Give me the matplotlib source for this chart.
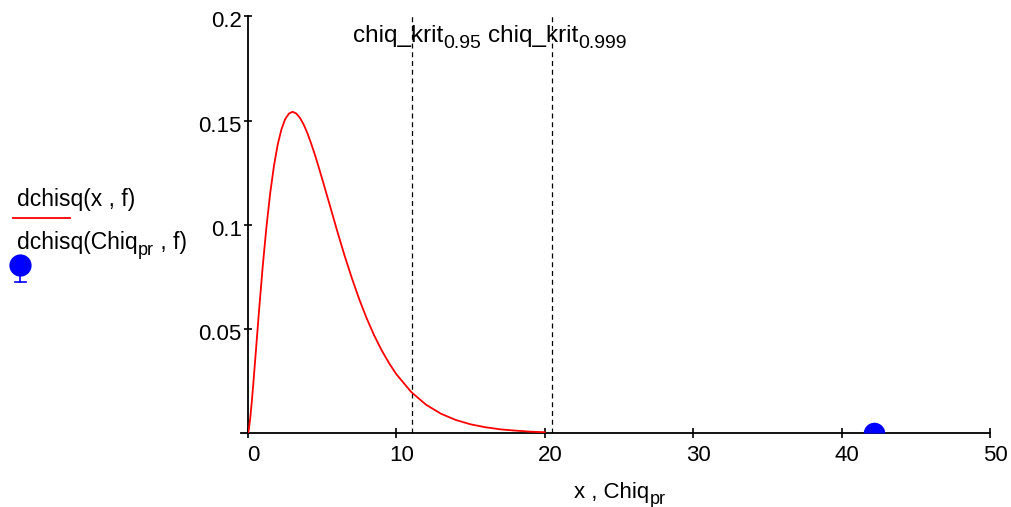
import matplotlib
matplotlib.use("Agg")
import matplotlib.pyplot as plt
import matplotlib.transforms as mtrans
from matplotlib.lines import Line2D

plt.rcParams['font.family'] = ['Liberation Sans', 'DejaVu Sans']

# curve values (dchisq(x, f))
x_vals = [0, 0.05, 0.15, 0.25, 0.35, 0.5, 0.75, 1, 1.25, 1.5, 1.75, 2, 2.25, 2.5, 2.75,
          3, 3.25, 3.5, 3.75, 4, 4.25, 4.5, 4.75, 5, 5.5, 6, 6.5, 7, 7.5, 8, 8.5, 9, 9.5,
          10, 11, 12, 13, 14, 15, 16, 17, 18, 19, 20]
dens_vals = [0, 0.0015, 0.0072, 0.0147, 0.0231, 0.0366, 0.0594, 0.0807, 0.0995, 0.1154,
             0.1283, 0.1384, 0.1457, 0.1506, 0.1533, 0.1542, 0.1534, 0.1513, 0.1481,
             0.1440, 0.1391, 0.1338, 0.1280, 0.1220, 0.1097, 0.0973, 0.0854, 0.0744,
             0.0642, 0.0551, 0.0470, 0.0399, 0.0337, 0.0283, 0.0198, 0.0137, 0.0094,
             0.0064, 0.0043, 0.0029, 0.0019, 0.0013, 0.0008, 0.0005]
crit_vals = [11.07, 20.515]
crit_names = ['chiq_krit', 'chiq_krit']
crit_subs = ['0.95', '0.999']
chiq_pr = 42.2
chiq_pr_dens = 0.0
xticks = [0, 10, 20, 30, 40, 50]
yticks = [0.05, 0.1, 0.15, 0.2]
ytick_labels = ['0.05', '0.1', '0.15', '0.2']

W, H = 1011, 507
FS = 17.5
SFS = 14
TFS = 16
fig = plt.figure(figsize=(W / 100, H / 100), dpi=100)
ax = fig.add_axes([248 / W, 1 - 433.3 / H, (990 - 248) / W, (433.3 - 16.3) / H])
ax.set_xlim(0, 50)
ax.set_ylim(0, 0.2)

ax.plot(x_vals, dens_vals, color='red', lw=1.3, zorder=3)
for c in crit_vals:
    ax.axvline(c, color='black', lw=0.9, ls=(0, (4, 3)), zorder=2)
ax.plot([chiq_pr], [chiq_pr_dens], marker='o', fillstyle='top', color='blue',
        markerfacecoloralt='none', mew=0, ms=15.5, ls='none', zorder=4)

for s in ['top', 'right']:
    ax.spines[s].set_visible(False)
for s in ['left', 'bottom']:
    ax.spines[s].set_linewidth(1.3)

ax.set_xticks(xticks)
ax.set_xticklabels([str(t) for t in xticks])
ax.set_yticks(yticks)
ax.set_yticklabels(ytick_labels)
ax.tick_params(axis='x', direction='inout', length=7.5, width=1.2, labelsize=TFS, pad=5)
ax.tick_params(axis='y', direction='inout', length=6, width=1.2, labelsize=TFS, pad=1.5)
offx = mtrans.ScaledTranslation(5.5 / 100, 0, fig.dpi_scale_trans)
for lab in ax.get_xticklabels():
    lab.set_transform(lab.get_transform() + offx)
offy = mtrans.ScaledTranslation(0, -3 / 100, fig.dpi_scale_trans)
for lab in ax.get_yticklabels():
    lab.set_transform(lab.get_transform() + offy)

# extend x axis line a bit left of origin
ax.plot([-0.45, 0], [0, 0], color='black', lw=1.3, clip_on=False)

fig.canvas.draw()
renderer = fig.canvas.get_renderer()


def text_with_sub(x_px, y_px, main, sub, tail='', fs=FS, sfs=SFS, ha='left'):
    """Place text with a subscript; x_px,y_px = left (or center) baseline in pixels."""
    inv = fig.transFigure.inverted()
    parts = [(main, fs, 0), (sub, sfs, -6), (tail, fs, 0)]
    arts = []
    for s, f, dy in parts:
        if not s:
            continue
        t = fig.text(0, 0, s, fontsize=f, va='baseline', ha='left')
        arts.append((t, dy))
    widths = [t.get_window_extent(renderer).width for t, _ in arts]
    total = sum(widths)
    x0 = x_px - total / 2 if ha == 'center' else x_px
    for (t, dy), w in zip(arts, widths):
        t.set_position(inv.transform((x0, H - y_px + dy)))
        x0 += w


# critical value labels
for c, name, sub in zip(crit_vals, crit_names, crit_subs):
    xp = ax.transData.transform((c, 0))[0]
    text_with_sub(xp + 5, 42, name, sub, ha='center')

# x label
text_with_sub(620, 498, 'x , Chiq', 'pr', fs=16, sfs=13, ha='center')

# legend-like labels on the left
fig.text(17 / W, 1 - 206 / H, 'dchisq(x , f)', ha='left', va='baseline', fontsize=16.5)
fig.add_artist(Line2D([13 / W, 70 / W], [1 - 218 / H, 1 - 218 / H], color='red', lw=1.3))
text_with_sub(17, 249, 'dchisq(Chiq', 'pr', ' , f)', fs=16.5, sfs=13)
fig.add_artist(Line2D([20 / W], [1 - 265 / H], marker='o', color='blue', ms=16, mew=0))
fig.add_artist(Line2D([20 / W, 20 / W], [1 - 270 / H, 1 - 282 / H], color='blue', lw=1.2))
fig.add_artist(Line2D([15 / W, 26 / W], [1 - 282 / H, 1 - 282 / H], color='blue', lw=1.2))

fig.savefig('out.png', dpi=100)
